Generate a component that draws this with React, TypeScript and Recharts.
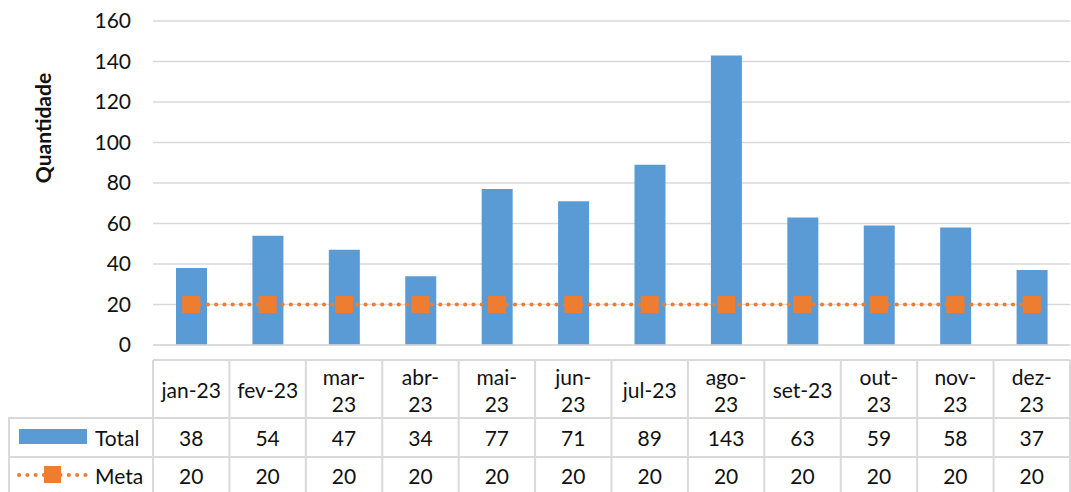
import React from 'react';
import { ComposedChart, Bar, Line, XAxis, YAxis, CartesianGrid } from 'recharts';

// categories as Excel wraps them in the data table
const months = ['jan-23', 'fev-23', 'mar-\n23', 'abr-\n23', 'mai-\n23', 'jun-\n23', 'jul-23', 'ago-\n23', 'set-23', 'out-\n23', 'nov-\n23', 'dez-\n23'];
const total = [38, 54, 47, 34, 77, 71, 89, 143, 63, 59, 58, 37];
const meta = [20, 20, 20, 20, 20, 20, 20, 20, 20, 20, 20, 20];
const yTicks = [0, 20, 40, 60, 80, 100, 120, 140, 160];

const data = months.map((m, i) => ({ month: m, total: total[i], meta: meta[i] }));

const W = 1071;
const H = 492;
const PLOT_LEFT = 153;
const PLOT_RIGHT = 1070;
const COL_W = (PLOT_RIGHT - PLOT_LEFT) / months.length;
const ROW_TOP = 360;
const ROW_TOTAL = 418;
const ROW_META = 457;

const BLUE = '#5b9bd5';
const ORANGE = '#ed7d31';
const GRID = '#d9d9d9';
const TEXT = '#111';
const FONT = 'Lato, "Liberation Sans", sans-serif';
const FS = 21;
const DOTS = '0.1 8.2';

const TableTick = (props: any) => {
  const { x, payload } = props;
  const i = props.index ?? payload.index;
  const left = x - COL_W / 2;
  const right = left + COL_W;
  const lines = String(payload.value).split('\n');
  const txt = { fontFamily: FONT, fontSize: FS, fill: TEXT, textAnchor: 'middle' as const, dominantBaseline: 'central' as const };

  return (
    <g>
      <line x1={left} x2={left} y1={ROW_TOP} y2={H} stroke={GRID} strokeWidth={2} />
      {i === months.length - 1 && <line x1={right} x2={right} y1={ROW_TOP} y2={H} stroke={GRID} strokeWidth={2} />}
      <line x1={left} x2={right} y1={ROW_TOP} y2={ROW_TOP} stroke={GRID} strokeWidth={2} />
      <line x1={left} x2={right} y1={ROW_TOTAL} y2={ROW_TOTAL} stroke={GRID} strokeWidth={2} />
      <line x1={left} x2={right} y1={ROW_META} y2={ROW_META} stroke={GRID} strokeWidth={2} />
      {lines.length === 1 ? (
        <text x={x} y={389} {...txt}>{lines[0]}</text>
      ) : (
        <>
          <text x={x} y={376} {...txt}>{lines[0]}</text>
          <text x={x} y={403} {...txt}>{lines[1]}</text>
        </>
      )}
      <text x={x} y={437} {...txt}>{total[i]}</text>
      <text x={x} y={475} {...txt}>{meta[i]}</text>

      {i === 0 && (
        <g>
          <line x1={8} x2={PLOT_LEFT} y1={ROW_TOTAL} y2={ROW_TOTAL} stroke={GRID} strokeWidth={2} />
          <line x1={8} x2={PLOT_LEFT} y1={ROW_META} y2={ROW_META} stroke={GRID} strokeWidth={2} />
          <line x1={9} x2={9} y1={ROW_TOTAL} y2={H} stroke={GRID} strokeWidth={2} />
          <rect x={19} y={429} width={68} height={15} fill={BLUE} />
          <text x={95} y={437} fontFamily={FONT} fontSize={FS} fill={TEXT} dominantBaseline="central">Total</text>
          <line x1={19} x2={88} y1={475} y2={475} stroke={ORANGE} strokeWidth={4} strokeLinecap="round" strokeDasharray={DOTS} />
          <rect x={44} y={466} width={17} height={17} fill={ORANGE} />
          <text x={95} y={475} fontFamily={FONT} fontSize={FS} fill={TEXT} dominantBaseline="central">Meta</text>
        </g>
      )}
    </g>
  );
};

const SquareDot = (props: any) => {
  const { cx, cy, index } = props;
  return <rect key={`dot-${index}`} x={cx - 9} y={cy - 8.5} width={18} height={17} fill={ORANGE} />;
};

export default function App() {
  return (
    <div style={{ position: 'absolute', left: 0, top: 0, width: W, height: H, background: '#fff' }}>
      <ComposedChart width={W} height={H} data={data} margin={{ top: 21, right: W - PLOT_RIGHT, left: 0, bottom: 0 }}>
        <CartesianGrid vertical={false} stroke={GRID} strokeWidth={1.5} />
        <XAxis
          dataKey="month"
          height={H - 345}
          interval={0}
          tickLine={false}
          axisLine={{ stroke: GRID, strokeWidth: 1.5 }}
          tick={<TableTick />}
        />
        <YAxis
          width={PLOT_LEFT}
          domain={[0, 160]}
          ticks={yTicks}
          tickLine={false}
          axisLine={false}
          tickSize={0}
          tickMargin={22}
          tick={{ fontFamily: FONT, fontSize: FS, fill: TEXT }}
          label={{
            content: () => (
              <text x={42} y={128} transform="rotate(-90 42 128)" textAnchor="middle" dominantBaseline="central"
                fontFamily={FONT} fontSize={FS} fontWeight="bold" fill={TEXT}>Quantidade</text>
            ),
          }}
        />
        <Bar dataKey="total" fill={BLUE} barSize={31} isAnimationActive={false} />
        <Line dataKey="meta" stroke={ORANGE} strokeWidth={4} strokeLinecap="round" strokeDasharray={DOTS} dot={<SquareDot />} activeDot={false} isAnimationActive={false} />
      </ComposedChart>
    </div>
  );
}
